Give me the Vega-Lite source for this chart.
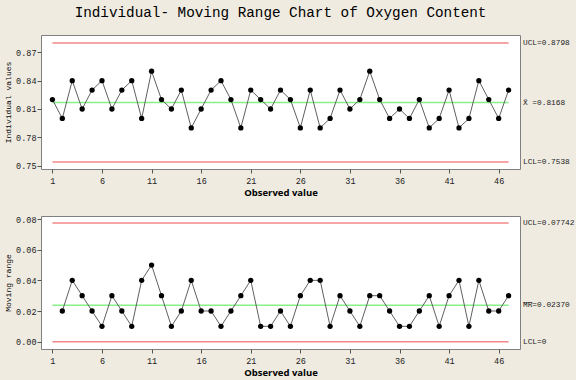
{
  "$schema": "https://vega.github.io/schema/vega-lite/v6.json",
  "background": "#efebe1",
  "padding": {"left": 4, "top": 6, "right": 4, "bottom": 2},
  "title": {
    "text": "Individual- Moving Range Chart of Oxygen Content",
    "font": "Liberation Mono",
    "fontSize": 14.3,
    "fontWeight": "normal",
    "color": "#000000",
    "anchor": "middle",
    "offset": 14,
    "dx": -9
  },
  "config": {
    "view": {"stroke": "#808080", "strokeWidth": 1, "fill": "#ffffff"},
    "axis": {
      "grid": false,
      "domain": false,
      "tickColor": "#555555",
      "tickSize": 4,
      "labelOverlap": false,
      "labelFont": "Liberation Mono",
      "labelFontSize": 8.5,
      "labelColor": "#222222",
      "titleColor": "#000000"
    },
    "concat": {"spacing": 16}
  },
  "datasets": {
    "obs": [
      {"n": 1, "value": 0.82, "mr": null},
      {"n": 2, "value": 0.80, "mr": 0.02},
      {"n": 3, "value": 0.84, "mr": 0.04},
      {"n": 4, "value": 0.81, "mr": 0.03},
      {"n": 5, "value": 0.83, "mr": 0.02},
      {"n": 6, "value": 0.84, "mr": 0.01},
      {"n": 7, "value": 0.81, "mr": 0.03},
      {"n": 8, "value": 0.83, "mr": 0.02},
      {"n": 9, "value": 0.84, "mr": 0.01},
      {"n": 10, "value": 0.80, "mr": 0.04},
      {"n": 11, "value": 0.85, "mr": 0.05},
      {"n": 12, "value": 0.82, "mr": 0.03},
      {"n": 13, "value": 0.81, "mr": 0.01},
      {"n": 14, "value": 0.83, "mr": 0.02},
      {"n": 15, "value": 0.79, "mr": 0.04},
      {"n": 16, "value": 0.81, "mr": 0.02},
      {"n": 17, "value": 0.83, "mr": 0.02},
      {"n": 18, "value": 0.84, "mr": 0.01},
      {"n": 19, "value": 0.82, "mr": 0.02},
      {"n": 20, "value": 0.79, "mr": 0.03},
      {"n": 21, "value": 0.83, "mr": 0.04},
      {"n": 22, "value": 0.82, "mr": 0.01},
      {"n": 23, "value": 0.81, "mr": 0.01},
      {"n": 24, "value": 0.83, "mr": 0.02},
      {"n": 25, "value": 0.82, "mr": 0.01},
      {"n": 26, "value": 0.79, "mr": 0.03},
      {"n": 27, "value": 0.83, "mr": 0.04},
      {"n": 28, "value": 0.79, "mr": 0.04},
      {"n": 29, "value": 0.80, "mr": 0.01},
      {"n": 30, "value": 0.83, "mr": 0.03},
      {"n": 31, "value": 0.81, "mr": 0.02},
      {"n": 32, "value": 0.82, "mr": 0.01},
      {"n": 33, "value": 0.85, "mr": 0.03},
      {"n": 34, "value": 0.82, "mr": 0.03},
      {"n": 35, "value": 0.80, "mr": 0.02},
      {"n": 36, "value": 0.81, "mr": 0.01},
      {"n": 37, "value": 0.80, "mr": 0.01},
      {"n": 38, "value": 0.82, "mr": 0.02},
      {"n": 39, "value": 0.79, "mr": 0.03},
      {"n": 40, "value": 0.80, "mr": 0.01},
      {"n": 41, "value": 0.83, "mr": 0.03},
      {"n": 42, "value": 0.79, "mr": 0.04},
      {"n": 43, "value": 0.80, "mr": 0.01},
      {"n": 44, "value": 0.84, "mr": 0.04},
      {"n": 45, "value": 0.82, "mr": 0.02},
      {"n": 46, "value": 0.80, "mr": 0.02},
      {"n": 47, "value": 0.83, "mr": 0.03}
    ],
    "ilimits": [
      {"kind": "limit", "value": 0.8798, "label": "UCL=0.8798"},
      {"kind": "center", "value": 0.8168, "label": "X̄ =0.8168"},
      {"kind": "limit", "value": 0.7538, "label": "LCL=0.7538"}
    ],
    "mlimits": [
      {"kind": "limit", "value": 0.07742, "label": "UCL=0.07742"},
      {"kind": "center", "value": 0.0237, "label": "M̅R̅=0.02370"},
      {"kind": "limit", "value": 0, "label": "LCL=0"}
    ]
  },
  "vconcat": [
    {
      "width": 479,
      "height": 134,
      "layer": [
        {
          "data": {"name": "ilimits"},
          "mark": {"type": "rule", "strokeWidth": 1.5},
          "encoding": {
            "x": {"datum": 1, "type": "quantitative"},
            "x2": {"datum": 47},
            "y": {"field": "value", "type": "quantitative"},
            "color": {"field": "kind", "type": "nominal", "scale": {"domain": ["limit", "center"], "range": ["#f48888", "#88f088"]}, "legend": null}
          }
        },
        {
          "data": {"name": "ilimits"},
          "mark": {"type": "text", "align": "left", "baseline": "middle", "dx": 3, "font": "Liberation Mono, DejaVu Sans Mono", "fontSize": 7.8, "color": "#222222"},
          "encoding": {
            "x": {"datum": 48.15, "type": "quantitative"},
            "y": {"field": "value", "type": "quantitative"},
            "text": {"field": "label"}
          }
        },
        {
          "data": {"name": "obs"},
          "mark": {"type": "line", "color": "#606060", "strokeWidth": 1},
          "encoding": {
            "x": {"field": "n", "type": "quantitative"},
            "y": {"field": "value", "type": "quantitative"}
          }
        },
        {
          "data": {"name": "obs"},
          "mark": {"type": "point", "filled": true, "color": "#000000", "size": 28, "opacity": 1},
          "encoding": {
            "x": {
              "field": "n", "type": "quantitative",
              "scale": {"domain": [-0.15, 48.15], "nice": false, "zero": false},
              "axis": {"values": [1, 6, 11, 16, 21, 26, 31, 36, 41, 46], "tickCount": 20, "labelOverlap": false, "title": "Observed value", "titleFont": "Open Sans", "titleFontSize": 9.5, "titleFontWeight": "bold", "titlePadding": 3, "labelPadding": 3}
            },
            "y": {
              "field": "value", "type": "quantitative",
              "scale": {"domain": [0.7465, 0.8883], "nice": false, "zero": false},
              "axis": {"values": [0.75, 0.78, 0.81, 0.84, 0.87], "tickCount": 10, "labelOverlap": false, "format": ".2f", "title": "Individual values", "titleFont": "Liberation Mono", "titleFontSize": 8, "titleFontWeight": "normal", "titlePadding": 3, "labelPadding": 1}
            }
          }
        }
      ]
    },
    {
      "width": 479,
      "height": 133,
      "layer": [
        {
          "data": {"name": "mlimits"},
          "mark": {"type": "rule", "strokeWidth": 1.5},
          "encoding": {
            "x": {"datum": 1, "type": "quantitative"},
            "x2": {"datum": 47},
            "y": {"field": "value", "type": "quantitative"},
            "color": {"field": "kind", "type": "nominal", "scale": {"domain": ["limit", "center"], "range": ["#f48888", "#88f088"]}, "legend": null}
          }
        },
        {
          "data": {"name": "mlimits"},
          "mark": {"type": "text", "align": "left", "baseline": "middle", "dx": 3, "font": "Liberation Mono, DejaVu Sans Mono", "fontSize": 7.8, "color": "#222222"},
          "encoding": {
            "x": {"datum": 48.15, "type": "quantitative"},
            "y": {"field": "value", "type": "quantitative"},
            "text": {"field": "label"}
          }
        },
        {
          "data": {"name": "obs"},
          "transform": [{"filter": "datum.mr != null"}],
          "mark": {"type": "line", "color": "#606060", "strokeWidth": 1},
          "encoding": {
            "x": {"field": "n", "type": "quantitative"},
            "y": {"field": "mr", "type": "quantitative"}
          }
        },
        {
          "data": {"name": "obs"},
          "transform": [{"filter": "datum.mr != null"}],
          "mark": {"type": "point", "filled": true, "color": "#000000", "size": 28, "opacity": 1},
          "encoding": {
            "x": {
              "field": "n", "type": "quantitative",
              "scale": {"domain": [-0.15, 48.15], "nice": false, "zero": false},
              "axis": {"values": [1, 6, 11, 16, 21, 26, 31, 36, 41, 46], "tickCount": 20, "labelOverlap": false, "title": "Observed value", "titleFont": "Open Sans", "titleFontSize": 9.5, "titleFontWeight": "bold", "titlePadding": 3, "labelPadding": 3}
            },
            "y": {
              "field": "mr", "type": "quantitative",
              "scale": {"domain": [-0.0048, 0.082], "nice": false, "zero": false},
              "axis": {"values": [0, 0.02, 0.04, 0.06, 0.08], "tickCount": 10, "labelOverlap": false, "format": ".2f", "title": "Moving range", "titleFont": "Liberation Mono", "titleFontSize": 8, "titleFontWeight": "normal", "titlePadding": 3, "labelPadding": 1}
            }
          }
        }
      ]
    }
  ]
}
